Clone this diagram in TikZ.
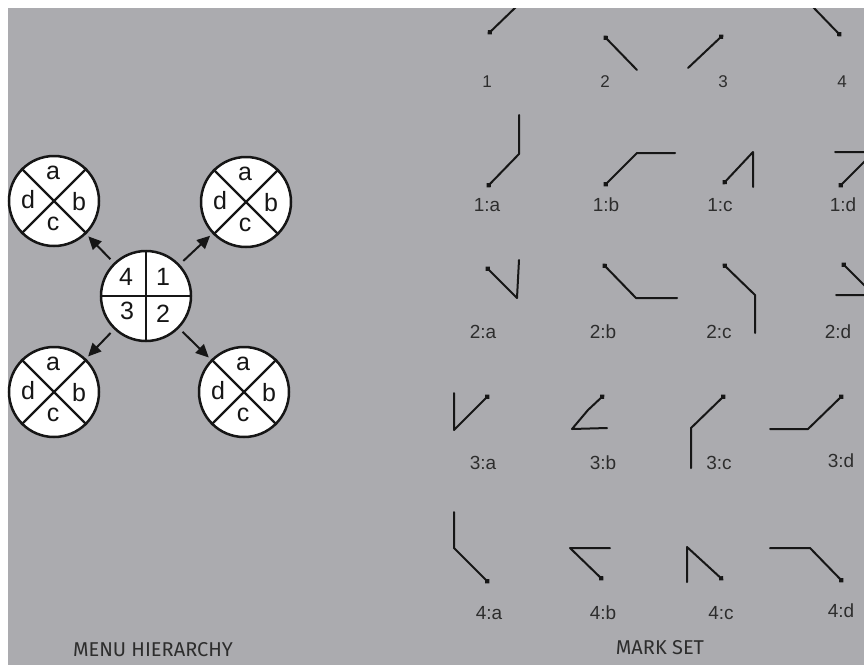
\documentclass[tikz,border=0pt]{standalone}
\usepackage{fontspec}
\setmainfont{Liberation Sans}
\newfontfamily\capfont{Fira Sans}
\usepackage{xcolor}
\usetikzlibrary{arrows.meta}

\definecolor{panel}{RGB}{171,171,175}
\definecolor{ink}{RGB}{22,22,22}
\definecolor{labgray}{RGB}{45,45,45}

\begin{document}
\begin{tikzpicture}[
    x=1pt, y=-1pt,
    menu/.style={circle, draw=ink, fill=white, line width=2.5pt, minimum size=90pt, inner sep=0pt},
    divider/.style={draw=ink, line width=2.2pt},
    item/.style={font=\fontsize{25}{25}\selectfont, text=ink, inner sep=0pt},
    arr/.style={-{Triangle[length=13pt,width=12pt]}, line width=2pt, draw=ink, shorten <=5pt, shorten >=3pt},
    gest/.style={{Circle[length=5pt]}-, line width=2pt, draw=ink, line join=round, line cap=round},
    lab/.style={font=\fontsize{19}{19}\selectfont, text=labgray, inner sep=0pt},
    caption/.style={font=\capfont\fontsize{20}{20}\selectfont, text=labgray, inner sep=0pt}
]
\useasboundingbox (0,0) rectangle (864,665);
\fill[white] (0,0) rectangle (864,665);
\fill[panel] (8,8) rectangle (864,665);

% menu hierarchy
\node[menu] (ctr) at (146,296) {};
\node[menu] (q1) at (246,202) {};
\node[menu] (q2) at (244,392) {};
\node[menu] (q3) at (54,392) {};
\node[menu] (q4) at (54,201) {};

\draw[divider] (ctr.north) -- (ctr.south);
\draw[divider] (ctr.west) -- (ctr.east);
\node[item] (n4) at ([shift={(-20,-19)}]ctr) {4};
\node[item] (n1) at ([shift={(17,-19)}]ctr) {1};
\node[item] (n3) at ([shift={(-19,15)}]ctr) {3};
\node[item] (n2) at ([shift={(17,18)}]ctr) {2};

\foreach \q in {q1,q2,q3,q4}{
  \draw[divider] (\q.north west) -- (\q.south east);
  \draw[divider] (\q.north east) -- (\q.south west);
  \node[item] (\q a) at ([shift={(-1,-28)}]\q) {a};
  \node[item] (\q b) at ([shift={(25,1)}]\q) {b};
  \node[item] (\q c) at ([shift={(-1,23)}]\q) {c};
  \node[item] (\q d) at ([shift={(-26,-1)}]\q) {d};
  \draw[arr] (ctr) -- (\q);
}

% mark set
\begin{scope}
\clip (8,8) rectangle (864,665);
\draw[gest] (488,34) -- (517,6);
\draw[gest] (604,36) -- (637,70);
\draw[gest] (723,35) -- (688,68);
\draw[gest] (841,36) -- (812,6);

\draw[gest] (487,187) -- (519,154) -- (519,115);
\draw[gest] (604,186) -- (637,153) -- (675,153);
\draw[gest] (723,184) -- (753,152) -- (753,187);
\draw[gest] (839,187) -- (874,152) -- (835,152);

\draw[gest] (486,267) -- (517,298) -- (519,260);
\draw[gest] (603,264) -- (636,298) -- (677,298);
\draw[gest] (723,264) -- (755,295) -- (755,333);
\draw[gest] (842,263) -- (874,295) -- (836,295);

\draw[gest] (489,395) -- (454,430) -- (454,393);
\draw[gest] (604,395) -- (588,410) -- (572,429) -- (607,428);
\draw[gest] (725,395) -- (691,428) -- (691,468);
\draw[gest] (843,395) -- (808,429) -- (770,429);

\draw[gest] (489,583) -- (454,548) -- (454,512);
\draw[gest] (603,580) -- (570,548) -- (610,548);
\draw[gest] (723,580) -- (687,547) -- (687,582);
\draw[gest] (843,582) -- (810,548) -- (770,548);
\end{scope}

\node[lab, font=\fontsize{17}{17}\selectfont] (m1) at (487,82) {1};
\node[lab, font=\fontsize{17}{17}\selectfont] (m2) at (605,82) {2};
\node[lab, font=\fontsize{17}{17}\selectfont] (m3) at (723,82) {3};
\node[lab, font=\fontsize{17}{17}\selectfont] (m4) at (842,82) {4};

\node[lab] (m1a) at (487,205) {1:a};
\node[lab] (m1b) at (606,205) {1:b};
\node[lab] (m1c) at (720,205) {1:c};
\node[lab] (m1d) at (843,205) {1:d};

\node[lab] (m2a) at (483,332) {2:a};
\node[lab] (m2b) at (603,332) {2:b};
\node[lab] (m2c) at (719,332) {2:c};
\node[lab] (m2d) at (838,332) {2:d};

\node[lab] (m3a) at (483,463) {3:a};
\node[lab] (m3b) at (603,463) {3:b};
\node[lab] (m3c) at (719,463) {3:c};
\node[lab] (m3d) at (841,461) {3:d};

\node[lab] (m4a) at (489,613) {4:a};
\node[lab] (m4b) at (603,613) {4:b};
\node[lab] (m4c) at (721,613) {4:c};
\node[lab] (m4d) at (841,611) {4:d};

\node[caption] (menucap) at (153,650) {MENU HIERARCHY};
\node[caption] (markcap) at (660,648) {MARK SET};
\end{tikzpicture}
\end{document}
